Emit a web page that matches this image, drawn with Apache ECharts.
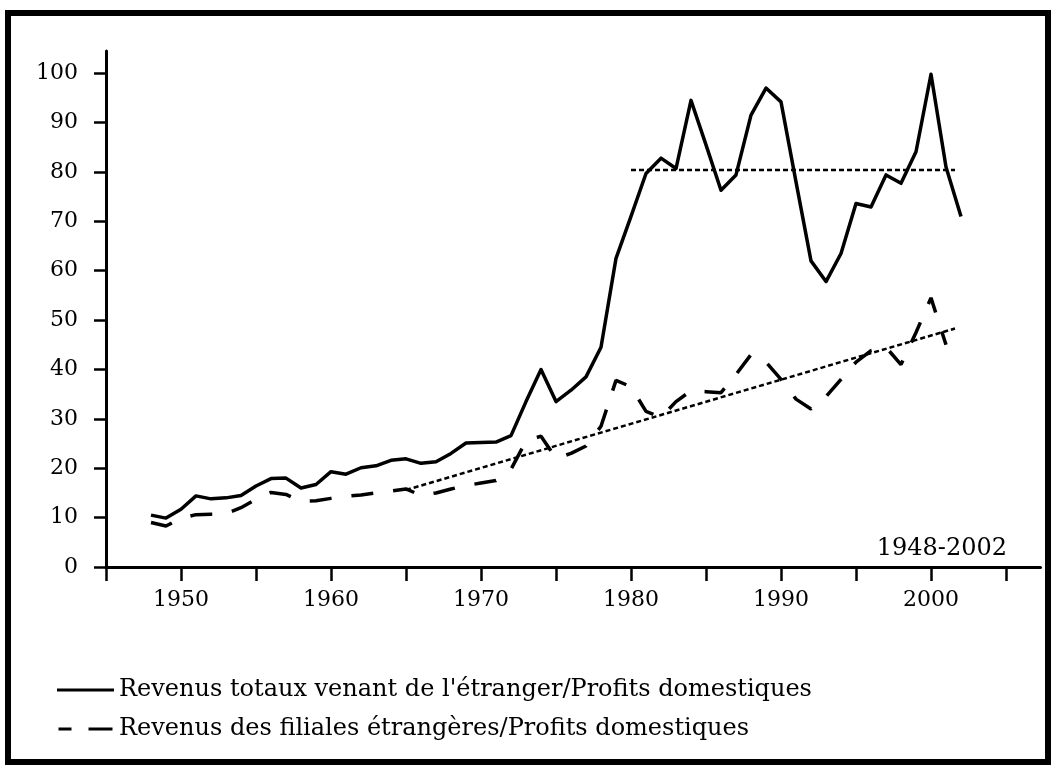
<!DOCTYPE html>
<html>
<head>
<meta charset="utf-8">
<script src="https://cdn.jsdelivr.net/npm/echarts@6/dist/echarts.min.js"></script>
<style>
  html, body { margin: 0; padding: 0; background: #fff; }
  #chart { width: 1053px; height: 768px; }
</style>
</head>
<body>
<div id="chart"></div>
<script>
var years = [];
for (var y = 1948; y <= 2002; y++) years.push(y);

// Revenus totaux venant de l'étranger / Profits domestiques (%)
var totalIncome = [
  10.5, 9.9, 11.7, 14.4, 13.8, 14.0, 14.5, 16.4, 17.9, 18.0,
  16.0, 16.7, 19.3, 18.8, 20.1, 20.5, 21.6, 21.9, 21.0, 21.3,
  23.0, 25.1, 25.2, 25.3, 26.6, 33.5, 40.0, 33.5, 35.8, 38.5,
  44.5, 62.5, 71.0, 79.7, 82.8, 80.7, 94.5, 85.5, 76.3, 79.4,
  91.5, 97.0, 94.2, 78.0, 62.0, 57.8, 63.5, 73.6, 72.9, 79.4,
  77.7, 84.1, 99.8, 81.0, 71.0
];
// Revenus des filiales étrangères / Profits domestiques (%)
var affiliateIncome = [
  9.0, 8.3, 9.9, 10.6, 10.7, 10.8, 12.0, 13.7, 15.1, 14.7,
  13.3, 13.4, 13.9, 14.3, 14.6, 15.0, 15.4, 15.8, 14.5, 15.0,
  15.8, 16.5, 17.0, 17.5, 19.8, 25.5, 26.5, 22.0, 23.0, 24.5,
  28.5, 37.8, 36.5, 31.5, 30.3, 33.5, 35.7, 35.5, 35.3, 39.0,
  43.0, 41.5, 38.0, 34.0, 32.0, 34.5, 38.0, 41.5, 43.8, 44.5,
  41.0, 47.5, 54.5, 45.0, null
];
// dotted reference lines
var meanLine = [[1980, 80.4], [2001.6, 80.4]];
var trendLine = [[1965, 15.6], [2001.6, 48.3]];

var xTicks = [1945, 1950, 1955, 1960, 1965, 1970, 1975, 1980, 1985, 1990, 1995, 2000, 2005];
var xLabels = [1950, 1960, 1970, 1980, 1990, 2000];
var yTicks = [0, 10, 20, 30, 40, 50, 60, 70, 80, 90, 100];

var names = [
  "Revenus totaux venant de l'étranger/Profits domestiques",
  "Revenus des filiales étrangères/Profits domestiques"
];

function pairs(vals) {
  return years.map(function (yr, i) { return [yr, vals[i]]; });
}

var font = "'DejaVu Serif', 'Liberation Serif', serif";
var chart = echarts.init(document.getElementById('chart'));

var option = {
  backgroundColor: '#fff',
  animation: false,
  grid: { left: 106, top: 51, width: 934.5, height: 516 },
  xAxis: {
    type: 'value',
    min: 1945,
    max: 2007.3,
    splitLine: { show: false },
    axisLine: { lineStyle: { color: '#000', width: 3 } },
    axisTick: { customValues: xTicks, length: 14, lineStyle: { color: '#000', width: 2.5 } },
    axisLabel: {
      customValues: xLabels, color: '#000', fontFamily: font, fontSize: 22, margin: 22,
      formatter: function (v) { return String(v); }
    }
  },
  yAxis: {
    type: 'value',
    min: 0,
    max: 104.5,
    splitLine: { show: false },
    axisLine: { show: true, lineStyle: { color: '#000', width: 3 } },
    axisTick: { show: true, customValues: yTicks, length: 12, lineStyle: { color: '#000', width: 2.5 } },
    axisLabel: {
      customValues: yTicks, color: '#000', fontFamily: font, fontSize: 22, margin: 28
    }
  },
  legend: {
    data: [
      { name: names[0], icon: 'path://M0,0H57V3H0Z' },
      { name: names[1], icon: 'path://M0,0H13V3H0Z M30,0H54V3H30Z' }
    ],
    orient: 'vertical',
    left: 52,
    top: 673,
    itemWidth: 57,
    itemHeight: 3,
    itemGap: 15,
    textStyle: { color: '#000', fontFamily: font, fontSize: 24 }
  },
  graphic: [
    {
      type: 'rect',
      shape: { x: 8, y: 13, width: 1040, height: 749 },
      style: { fill: 'none', stroke: '#000', lineWidth: 6 }
    },
    {
      type: 'text',
      style: {
        x: 1007, y: 549, text: '1948-2002', align: 'right', verticalAlign: 'middle',
        fill: '#000', font: '24px ' + font
      }
    }
  ],
  series: [
    {
      name: names[0],
      type: 'line',
      data: pairs(totalIncome),
      symbol: 'none',
      color: '#000',
      lineStyle: { color: '#000', width: 3.5, join: 'round' }
    },
    {
      name: names[1],
      type: 'line',
      data: pairs(affiliateIncome),
      symbol: 'none',
      color: '#000',
      lineStyle: { color: '#000', width: 3.5, type: [22, 20] }
    },
    {
      name: 'moyenne',
      type: 'line',
      data: meanLine,
      symbol: 'none',
      silent: true,
      lineStyle: { color: '#000', width: 2.5, type: [5, 3] }
    },
    {
      name: 'tendance',
      type: 'line',
      data: trendLine,
      symbol: 'none',
      silent: true,
      lineStyle: { color: '#000', width: 2.5, type: [5, 3] }
    }
  ]
};
chart.setOption(option);
</script>
</body>
</html>
